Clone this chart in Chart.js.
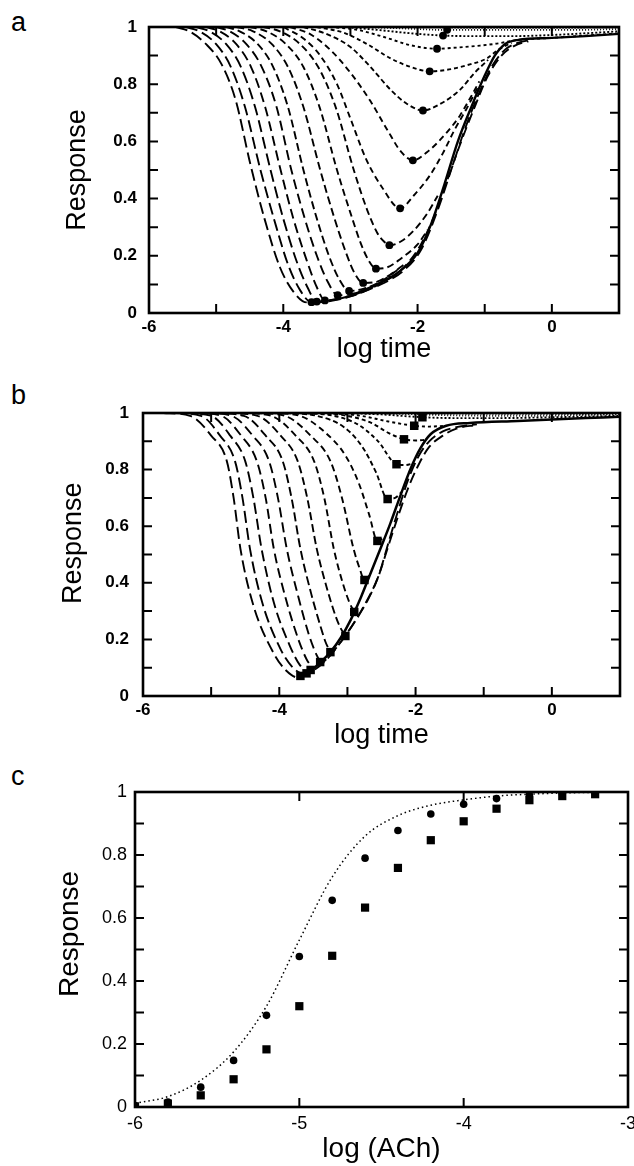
<!DOCTYPE html>
<html>
<head>
<meta charset="utf-8">
<script src="https://cdn.jsdelivr.net/npm/chart.js@4.4.0/dist/chart.umd.min.js"></script>
<style>
  body { margin: 0; background: #fff; width: 634px; height: 1166px; position: relative; overflow: hidden;
         font-family: "Liberation Sans", Arial, sans-serif; }
  .panel { position: absolute; left: 0; }
  .tag { position: absolute; left: 11px; font-size: 27px; line-height: 1; color: #000; }
</style>
</head>
<body>
<div class="tag" style="top:9px">a</div>
<div class="tag" style="top:382px">b</div>
<div class="tag" style="top:763px">c</div>
<div class="panel" style="top:0"><canvas id="chartA" width="634" height="380"></canvas></div>
<div class="panel" style="top:386px"><canvas id="chartB" width="634" height="380"></canvas></div>
<div class="panel" style="top:766px"><canvas id="chartC" width="634" height="400"></canvas></div>
<script>
// ---- panel a : response vs log time, one curve per agonist concentration ----
const a00 = [[-5.6,1],[-5.4,0.985],[-5.15,0.94],[-4.92,0.87],[-4.71,0.745],[-4.49,0.52],[-4.28,0.33],[-4.05,0.16],[-3.85,0.075],[-3.65,0.037],[-3.3,0.042],[-3.0,0.058],[-2.75,0.08],[-2.5,0.105],[-2.2,0.15],[-1.95,0.22],[-1.7,0.36],[-1.5,0.5],[-1.3,0.64],[-1.1,0.76],[-0.9,0.86],[-0.7,0.92],[-0.5,0.945],[-0.3,0.955]];
const a01 = [[-5.45,1],[-5.25,0.985],[-5.0,0.94],[-4.78,0.86],[-4.57,0.72],[-4.34,0.5],[-4.14,0.33],[-3.93,0.17],[-3.75,0.08],[-3.58,0.038],[-3.3,0.044],[-3.0,0.06],[-2.7,0.085]];
const a02 = [[-5.3,1],[-5.1,0.985],[-4.85,0.94],[-4.63,0.86],[-4.42,0.72],[-4.19,0.5],[-4.0,0.33],[-3.8,0.18],[-3.64,0.09],[-3.5,0.04],[-3.2,0.05],[-2.9,0.068],[-2.6,0.1]];
const a03 = [[-5.15,1],[-4.95,0.985],[-4.7,0.94],[-4.48,0.86],[-4.27,0.72],[-4.04,0.5],[-3.85,0.33],[-3.66,0.19],[-3.5,0.09],[-3.38,0.044],[-3.1,0.052],[-2.8,0.075],[-2.5,0.11],[-2.2,0.16],[-1.95,0.24],[-1.75,0.34],[-1.55,0.47],[-1.35,0.6],[-1.15,0.72],[-0.95,0.83],[-0.75,0.9],[-0.55,0.935],[-0.35,0.95]];
const a04 = [[-5.0,1],[-4.8,0.985],[-4.55,0.94],[-4.32,0.86],[-4.1,0.72],[-3.88,0.5],[-3.68,0.33],[-3.5,0.2],[-3.34,0.11],[-3.19,0.062],[-2.95,0.068],[-2.7,0.088],[-2.4,0.13]];
const a05 = [[-4.85,1],[-4.65,0.985],[-4.38,0.94],[-4.15,0.86],[-3.93,0.72],[-3.7,0.5],[-3.5,0.33],[-3.32,0.2],[-3.16,0.115],[-3.02,0.077],[-2.8,0.085],[-2.55,0.11],[-2.3,0.15]];
const a06 = [[-4.7,1],[-4.45,0.985],[-4.17,0.94],[-3.93,0.86],[-3.7,0.72],[-3.45,0.5],[-3.25,0.34],[-3.08,0.22],[-2.94,0.14],[-2.81,0.105],[-2.6,0.11],[-2.4,0.135],[-2.2,0.17]];
const a07 = [[-4.5,1],[-4.25,0.985],[-3.96,0.94],[-3.7,0.86],[-3.46,0.72],[-3.2,0.5],[-3.0,0.35],[-2.84,0.24],[-2.72,0.18],[-2.62,0.155],[-2.45,0.16],[-2.25,0.19],[-2.0,0.24],[-1.85,0.29]];
const a08 = [[-4.3,1],[-4.05,0.985],[-3.75,0.94],[-3.48,0.86],[-3.22,0.72],[-2.95,0.5],[-2.75,0.36],[-2.6,0.28],[-2.5,0.25],[-2.42,0.237],[-2.25,0.25],[-2.05,0.29],[-1.85,0.35],[-1.7,0.41]];
const a09 = [[-4.0,1],[-3.7,0.96],[-3.45,0.9],[-3.2,0.8],[-3.0,0.68],[-2.77,0.54],[-2.53,0.44],[-2.26,0.366],[-2.06,0.41],[-1.82,0.48],[-1.62,0.56],[-1.45,0.64],[-1.28,0.71],[-1.1,0.79]];
const a10 = [[-3.9,1],[-3.6,0.975],[-3.3,0.92],[-3.0,0.84],[-2.7,0.74],[-2.45,0.64],[-2.25,0.565],[-2.07,0.534],[-1.82,0.57],[-1.57,0.63],[-1.37,0.69],[-1.22,0.75],[-1.08,0.81]];
const a11 = [[-3.7,1],[-3.35,0.975],[-3.0,0.93],[-2.7,0.86],[-2.4,0.78],[-2.15,0.73],[-1.92,0.708],[-1.67,0.73],[-1.37,0.78],[-1.15,0.84],[-0.95,0.885]];
const a12 = [[-3.5,1],[-3.1,0.98],[-2.75,0.94],[-2.4,0.89],[-2.1,0.86],[-1.82,0.845],[-1.57,0.85],[-1.27,0.866],[-0.97,0.89],[-0.8,0.92],[-0.6,0.945]];
const a13 = [[-3.3,1],[-2.9,0.99],[-2.5,0.965],[-2.1,0.936],[-1.71,0.924],[-1.42,0.928],[-1.07,0.935],[-0.82,0.942],[-0.5,0.955],[0,0.962],[0.5,0.97],[1,0.978]];
const a14 = [[-3.1,1],[-2.6,0.99],[-2.1,0.978],[-1.62,0.97],[-1.1,0.968],[-0.6,0.968],[0,0.972],[0.5,0.978],[1,0.985]];
const a15 = [[-2.9,1],[-2.3,0.996],[-1.56,0.99],[-1.0,0.99],[-0.4,0.99],[0.3,0.99],[1,0.993]];
const a16 = [[-2.7,1],[-1.8,0.998],[-1.0,0.996],[0,0.996],[1,0.998]];
const aEnvelope = [[-2.9,0.07],[-2.6,0.1],[-2.3,0.14],[-2.0,0.21],[-1.8,0.31],[-1.6,0.45],[-1.4,0.6],[-1.2,0.72],[-1.0,0.83],[-0.85,0.9],[-0.7,0.94],[-0.5,0.955],[0,0.962],[0.5,0.968],[1,0.976]];
const aMinX = [-3.58,-3.5,-3.38,-3.19,-3.02,-2.81,-2.62,-2.42,-2.26,-2.07,-1.92,-1.82,-1.71,-1.62,-1.56];
const aMinY = [0.038,0.04,0.044,0.062,0.077,0.105,0.155,0.237,0.366,0.534,0.708,0.845,0.924,0.97,0.99];
const aCurves = [a00,a01,a02,a03,a04,a05,a06,a07,a08,a09,a10,a11,a12,a13,a14,a15,a16];
const aDash = [[12,5],[12,5],[12,5],[10,5],[10,5],[8,4],[8,4],[7,4],[7,4],[6,4],[6,4],[5,3],[4,3],[3,3],[2,2],[1,2],[1,2]];

// ---- panel b ----
const b00 = [[-5.7,1],[-5.31,0.99],[-5.0,0.92],[-4.77,0.83],[-4.67,0.7],[-4.57,0.52],[-4.38,0.32],[-4.08,0.15],[-3.9,0.09],[-3.72,0.065],[-3.5,0.09],[-3.3,0.13],[-3.1,0.19],[-2.9,0.26],[-2.7,0.34],[-2.55,0.42],[-2.4,0.54],[-2.25,0.66],[-2.1,0.77],[-1.95,0.85],[-1.8,0.9],[-1.6,0.935],[-1.4,0.95],[-1.1,0.96]];
const b01 = [[-5.55,1],[-5.15,0.99],[-4.87,0.92],[-4.65,0.83],[-4.54,0.7],[-4.43,0.52],[-4.25,0.33],[-3.98,0.165],[-3.8,0.1],[-3.65,0.075]];
const b02 = [[-5.4,1],[-5.0,0.99],[-4.72,0.92],[-4.5,0.83],[-4.38,0.7],[-4.26,0.52],[-4.08,0.33],[-3.85,0.18],[-3.7,0.11],[-3.58,0.085],[-3.4,0.11],[-3.1,0.19],[-2.8,0.3],[-2.55,0.42],[-2.4,0.53],[-2.25,0.64],[-2.1,0.74],[-1.95,0.82],[-1.8,0.88],[-1.6,0.92],[-1.4,0.945],[-1.1,0.958]];
const b03 = [[-5.25,1],[-4.85,0.99],[-4.56,0.92],[-4.33,0.83],[-4.2,0.7],[-4.08,0.52],[-3.9,0.34],[-3.72,0.2],[-3.6,0.13],[-3.5,0.095]];
const b04 = [[-5.1,1],[-4.7,0.99],[-4.39,0.92],[-4.15,0.83],[-4.02,0.7],[-3.89,0.52],[-3.72,0.35],[-3.57,0.22],[-3.48,0.16],[-3.4,0.12]];
const b05 = [[-4.95,1],[-4.52,0.99],[-4.2,0.92],[-3.95,0.83],[-3.82,0.7],[-3.69,0.52],[-3.53,0.36],[-3.4,0.25],[-3.32,0.19],[-3.25,0.155]];
const b06 = [[-4.75,1],[-4.32,0.99],[-3.98,0.92],[-3.73,0.83],[-3.59,0.7],[-3.45,0.52],[-3.3,0.38],[-3.17,0.28],[-3.1,0.24],[-3.03,0.212]];
const b07 = [[-4.55,1],[-4.12,0.99],[-3.76,0.92],[-3.49,0.83],[-3.34,0.7],[-3.2,0.52],[-3.07,0.4],[-2.97,0.33],[-2.9,0.297]];
const b08 = [[-4.35,1],[-3.92,0.99],[-3.54,0.92],[-3.25,0.83],[-3.08,0.7],[-2.91,0.52],[-2.82,0.45],[-2.75,0.41],[-2.68,0.425]];
const b09 = [[-4.1,1],[-3.7,0.99],[-3.32,0.93],[-3.03,0.85],[-2.83,0.75],[-2.68,0.64],[-2.56,0.548],[-2.45,0.562]];
const b10 = [[-3.9,1],[-3.45,0.99],[-3.05,0.95],[-2.78,0.88],[-2.58,0.79],[-2.41,0.696],[-2.3,0.7],[-2.2,0.722]];
const b11 = [[-3.7,1],[-3.2,0.99],[-2.85,0.96],[-2.55,0.9],[-2.28,0.819],[-2.15,0.816],[-2.04,0.822]];
const b12 = [[-3.5,1],[-3.0,0.99],[-2.65,0.965],[-2.4,0.93],[-2.17,0.907],[-2.0,0.903],[-1.85,0.905]];
const b13 = [[-3.3,1],[-2.8,0.99],[-2.4,0.97],[-2.02,0.955],[-1.8,0.952],[-1.55,0.955]];
const b14 = [[-3.1,1],[-2.5,0.995],[-1.9,0.985],[-1.4,0.982],[-0.8,0.982],[0,0.985],[1,0.99]];
const b15 = [[-2.9,1],[-2.2,0.997],[-1.5,0.992],[-0.5,0.99],[0.3,0.992],[1,0.996]];
const b16 = [[-2.5,1],[-1.5,0.998],[0,0.996],[1,0.998]];
const bEnvelope = [[-3.72,0.065],[-3.55,0.088],[-3.4,0.118],[-3.25,0.155],[-3.1,0.205],[-2.95,0.27],[-2.8,0.35],[-2.65,0.44],[-2.5,0.53],[-2.37,0.61],[-2.22,0.71],[-2.07,0.805],[-1.93,0.875],[-1.78,0.925],[-1.55,0.955],[-1.2,0.965],[-0.5,0.972],[0,0.977],[0.5,0.982],[1,0.987]];
const bMinX = [-3.69,-3.6,-3.54,-3.40,-3.25,-3.03,-2.90,-2.75,-2.56,-2.41,-2.28,-2.17,-2.02,-1.90];
const bMinY = [0.071,0.08,0.092,0.12,0.155,0.212,0.297,0.41,0.548,0.696,0.819,0.907,0.955,0.985];
const bCurves = [b00,b01,b02,b03,b04,b05,b06,b07,b08,b09,b10,b11,b12,b13,b14,b15,b16];
const bDash = [[12,5],[12,5],[11,5],[10,5],[10,5],[9,4],[8,4],[7,4],[7,4],[6,4],[5,3],[4,3],[4,3],[3,3],[2,2],[1,2],[1,2]];

// ---- panel c : concentration-response ----
const cLogACh = [-6,-5.8,-5.6,-5.4,-5.2,-5.0,-4.8,-4.6,-4.4,-4.2,-4.0,-3.8,-3.6,-3.4,-3.2];
const cPeak = [0.005,0.016,0.063,0.148,0.291,0.478,0.656,0.79,0.878,0.93,0.961,0.979,0.99,0.995,0.998];
const cSteady = [0.002,0.011,0.037,0.088,0.183,0.32,0.48,0.633,0.759,0.847,0.907,0.947,0.974,0.987,0.993];
const cFitX = [-6,-5.8,-5.6,-5.4,-5.2,-5.0,-4.8,-4.6,-4.4,-4.2,-4.0,-3.8,-3.6,-3.4,-3.0];
const cFitY = [0.012,0.033,0.085,0.175,0.32,0.53,0.73,0.86,0.925,0.958,0.975,0.987,0.993,0.997,1];

const xy = arr => arr.map(p => ({x: p[0], y: p[1]}));
const zipXY = (xs, ys) => xs.map((x, i) => ({x: x, y: ys[i]}));

const frameTicks = {
  id: 'frameTicks',
  afterDatasetsDraw(chart, args, opts) {
    const {ctx, chartArea: ar, scales: {x, y}} = chart;
    const len = opts.len;
    ctx.save();
    ctx.strokeStyle = '#000';
    ctx.lineWidth = 2;
    ctx.beginPath();
    x.ticks.forEach(t => {
      const px = x.getPixelForValue(t.value);
      if (px < ar.left + 2 || px > ar.right - 2) return;
      ctx.moveTo(px, ar.bottom); ctx.lineTo(px, ar.bottom - len);
      ctx.moveTo(px, ar.top); ctx.lineTo(px, ar.top + len);
    });
    y.ticks.forEach(t => {
      const py = y.getPixelForValue(t.value);
      if (py < ar.top + 2 || py > ar.bottom - 2) return;
      ctx.moveTo(ar.left, py); ctx.lineTo(ar.left + len, py);
      ctx.moveTo(ar.right, py); ctx.lineTo(ar.right - len, py);
    });
    ctx.stroke();
    ctx.lineWidth = 2.6;
    ctx.strokeRect(ar.left, ar.top, ar.right - ar.left, ar.bottom - ar.top);
    ctx.restore();
  }
};

function yLabel(v) {
  const k = Math.round(v * 10);
  return k % 2 === 0 ? String(k / 10) : '';
}

function makeOptions(p) {
  return {
    responsive: false,
    animation: false,
    layout: { padding: { left: 0, right: p.padRight, top: p.padTop, bottom: 0 } },
    plugins: { legend: { display: false }, tooltip: { enabled: false }, frameTicks: { len: 9 } },
    scales: {
      x: {
        type: 'linear', min: p.xMin, max: p.xMax,
        grid: { display: false, drawTicks: false }, border: { display: false },
        ticks: { stepSize: 1, autoSkip: false, maxRotation: 0, padding: p.xTickPad, color: '#000',
                 font: p.tickFont, callback: p.xLabel },
        title: { display: true, text: p.xTitle, color: '#000', font: p.titleFont,
                 padding: { top: 0, bottom: p.xTitlePad } },
        afterFit(s) { s.height = p.xAxisH; s.paddingLeft = 0; s.paddingRight = 0; }
      },
      y: {
        type: 'linear', min: 0, max: 1,
        grid: { display: false, drawTicks: false }, border: { display: false },
        ticks: { stepSize: 0.1, autoSkip: false, padding: p.yTickPad, color: '#000',
                 font: p.tickFont, callback: yLabel },
        title: { display: true, text: p.yTitle, color: '#000', font: p.titleFont,
                 padding: { top: p.yTitlePad, bottom: 0 } },
        afterFit(s) { s.width = p.yAxisW; s.paddingTop = 0; s.paddingBottom = 0; }
      }
    }
  };
}

function curveSets(curves, dashes) {
  return curves.map((c, i) => ({
    type: 'line', data: xy(c), borderColor: '#000', borderWidth: 1.9, borderDash: dashes[i],
    pointRadius: 0, fill: false, cubicInterpolationMode: 'monotone'
  }));
}

const boldTicks = { family: 'Liberation Sans, Arial, sans-serif', size: 17, weight: 'bold' };
const titleFontAB = { family: 'Liberation Sans, Arial, sans-serif', size: 27, weight: 'normal' };
const evenOnly = v => (Math.round(v) % 2 === 0 ? String(v) : '');
// leading no-break spaces nudge the rotated titles upwards, as in the figure
const padTitle = (t, n) => '\u00a0'.repeat(n) + t;

new Chart(document.getElementById('chartA'), {
  type: 'line',
  data: {
    datasets: curveSets(aCurves, aDash).concat([
      { type: 'line', data: xy(aEnvelope), borderColor: '#000', borderWidth: 2.4, pointRadius: 0,
        fill: false, cubicInterpolationMode: 'monotone' },
      { type: 'scatter', data: zipXY(aMinX, aMinY), backgroundColor: '#000', borderWidth: 0,
        pointRadius: 3.9, pointStyle: 'circle' }
    ])
  },
  options: makeOptions({ padRight: 15, padTop: 27, xMin: -6, xMax: 1, xAxisH: 67, xTickPad: 4,
    xTitlePad: 14, yAxisW: 149, yTickPad: 12, yTitlePad: 61, tickFont: boldTicks, titleFont: titleFontAB,
    xTitle: 'log time', yTitle: 'Response', xLabel: evenOnly }),
  plugins: [frameTicks]
});

new Chart(document.getElementById('chartB'), {
  type: 'line',
  data: {
    datasets: curveSets(bCurves, bDash).concat([
      { type: 'line', data: xy(bEnvelope), borderColor: '#000', borderWidth: 2.5, pointRadius: 0,
        fill: false, cubicInterpolationMode: 'monotone' },
      { type: 'scatter', data: zipXY(bMinX, bMinY), backgroundColor: '#000', borderWidth: 0,
        pointRadius: 6, pointStyle: 'rect' }
    ])
  },
  options: makeOptions({ padRight: 14, padTop: 27, xMin: -6, xMax: 1, xAxisH: 70, xTickPad: 4,
    xTitlePad: 14, yAxisW: 143, yTickPad: 14, yTitlePad: 57, tickFont: boldTicks, titleFont: titleFontAB,
    xTitle: 'log time', yTitle: padTitle('Response', 3), xLabel: evenOnly }),
  plugins: [frameTicks]
});

new Chart(document.getElementById('chartC'), {
  type: 'line',
  data: {
    datasets: [
      { type: 'line', data: zipXY(cFitX, cFitY), borderColor: '#000', borderWidth: 1.5, borderDash: [1.5, 3],
        pointRadius: 0, fill: false, cubicInterpolationMode: 'monotone' },
      { type: 'scatter', data: zipXY(cLogACh, cPeak), backgroundColor: '#000', borderWidth: 0,
        pointRadius: 3.8, pointStyle: 'circle' },
      { type: 'scatter', data: zipXY(cLogACh, cSteady), backgroundColor: '#000', borderWidth: 0,
        pointRadius: 5.8, pointStyle: 'rect' }
    ]
  },
  options: makeOptions({ padRight: 6, padTop: 26, xMin: -6, xMax: -3, xAxisH: 59, xTickPad: 6,
    xTitlePad: 0, yAxisW: 135, yTickPad: 8, yTitlePad: 53,
    tickFont: { family: 'Liberation Sans, Arial, sans-serif', size: 18, weight: 'normal' },
    titleFont: { family: 'Liberation Sans, Arial, sans-serif', size: 28, weight: 'normal' },
    xTitle: 'log (ACh)', yTitle: padTitle('Response', 4), xLabel: v => String(v) }),
  plugins: [frameTicks]
});
</script>
</body>
</html>
